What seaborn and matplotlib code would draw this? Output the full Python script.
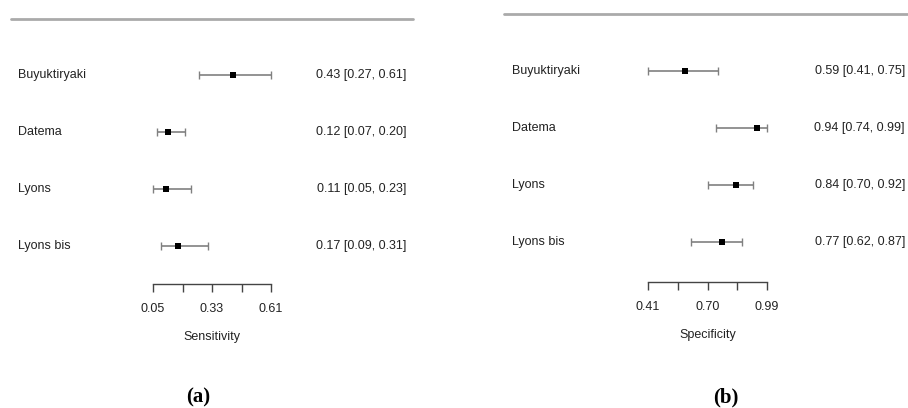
import numpy as np
import pandas as pd
import seaborn as sns
import matplotlib.pyplot as plt
from matplotlib.lines import Line2D

studies = ["Buyuktiryaki", "Datema", "Lyons", "Lyons bis"]

sens = [0.43, 0.12, 0.11, 0.17]
sens_lo = [0.27, 0.07, 0.05, 0.09]
sens_hi = [0.61, 0.20, 0.23, 0.31]

spec = [0.59, 0.94, 0.84, 0.77]
spec_lo = [0.41, 0.74, 0.70, 0.62]
spec_hi = [0.75, 0.99, 0.92, 0.87]

sens_ticks = [0.05, 0.19, 0.33, 0.47, 0.61]
sens_ticklabels = ["0.05", "", "0.33", "", "0.61"]
spec_ticks = [0.41, 0.555, 0.70, 0.845, 0.99]
spec_ticklabels = ["0.41", "", "0.70", "", "0.99"]

W, H = 908, 408

sns.set_theme(style="white")
plt.rcParams['font.family'] = ['Liberation Sans', 'DejaVu Sans']

fig = plt.figure(figsize=(W / 100, H / 100), dpi=100)

TXT = "#222222"
GRAY = "#808080"


def fx(px):
    return px / W


def fy(py):
    return 1 - py / H


def forest(est, lo, hi, ticks, ticklabels, xlabel, caption, lay):
    # axes spans the tick range horizontally, rows .. axis line vertically
    row_y = [lay['row0'] + i * lay['step'] for i in range(len(studies))]
    top_px = row_y[0] - lay['step'] * 0.6
    ax = fig.add_axes([fx(lay['x0']), fy(lay['axis_y']),
                       fx(lay['x1'] - lay['x0']), (lay['axis_y'] - top_px) / H])
    n = len(studies)
    rows = list(range(n, 0, -1))
    # y limits so that rows land on their pixel rows
    ylo = 1 - (lay['axis_y'] - row_y[-1]) / lay['step']
    yhi = n + (row_y[0] - top_px) / lay['step']

    df = pd.DataFrame({"study": studies, "est": est, "lo": lo, "hi": hi, "row": rows})
    ax.errorbar(df["est"], df["row"],
                xerr=[df["est"] - df["lo"], df["hi"] - df["est"]],
                fmt="none", ecolor=GRAY, elinewidth=1.2, capsize=3.2,
                capthick=1.0, clip_on=False, zorder=2)
    sns.scatterplot(data=df, x="est", y="row", marker="s", color="black",
                    s=22, edgecolor="black", linewidth=0, ax=ax,
                    clip_on=False, zorder=3)

    ax.set_xlim(ticks[0], ticks[-1])
    ax.set_ylim(ylo, yhi)
    ax.set_xticks(ticks)
    ax.set_xticklabels(ticklabels, fontsize=9, color=TXT)
    ax.set_yticks([])
    ax.set_ylabel("")
    ax.set_xlabel(xlabel, fontsize=9, color=TXT, labelpad=11.5)
    for s in ["top", "left", "right"]:
        ax.spines[s].set_visible(False)
    ax.spines["bottom"].set_color("#444444")
    ax.spines["bottom"].set_linewidth(1.0)
    ax.tick_params(axis="x", direction="out", length=6, width=1.0,
                   color="#444444", pad=8, bottom=True)
    ax.patch.set_alpha(0)

    for i, name in enumerate(studies):
        fig.text(fx(lay['label_x']), fy(row_y[i]), name, fontsize=9,
                 color=TXT, ha="left", va="center")
        fig.text(fx(lay['val_x']), fy(row_y[i]),
                 f"{est[i]:.2f} [{lo[i]:.2f}, {hi[i]:.2f}]", fontsize=9,
                 color=TXT, ha="right", va="center")

    fig.add_artist(Line2D([fx(lay['line_x0']), fx(lay['line_x1'])],
                          [fy(lay['line_y'])] * 2, color="#aaaaaa", lw=2))
    fig.text(fx(lay['cap_x']), fy(397), caption, fontsize=15,
             family="Liberation Serif", fontweight="bold", color="black",
             ha="center", va="center")
    return ax


forest(sens, sens_lo, sens_hi, sens_ticks, sens_ticklabels, "Sensitivity", "(a)",
       dict(x0=153, x1=271, row0=75, step=57, axis_y=284, label_x=18,
            val_x=406, line_x0=11, line_x1=413, line_y=19, cap_x=198))
forest(spec, spec_lo, spec_hi, spec_ticks, spec_ticklabels, "Specificity", "(b)",
       dict(x0=648, x1=767, row0=71, step=57, axis_y=282, label_x=512,
            val_x=905, line_x0=504, line_x1=908, line_y=14, cap_x=726))

fig.savefig("out.png", dpi=100, facecolor="white")
